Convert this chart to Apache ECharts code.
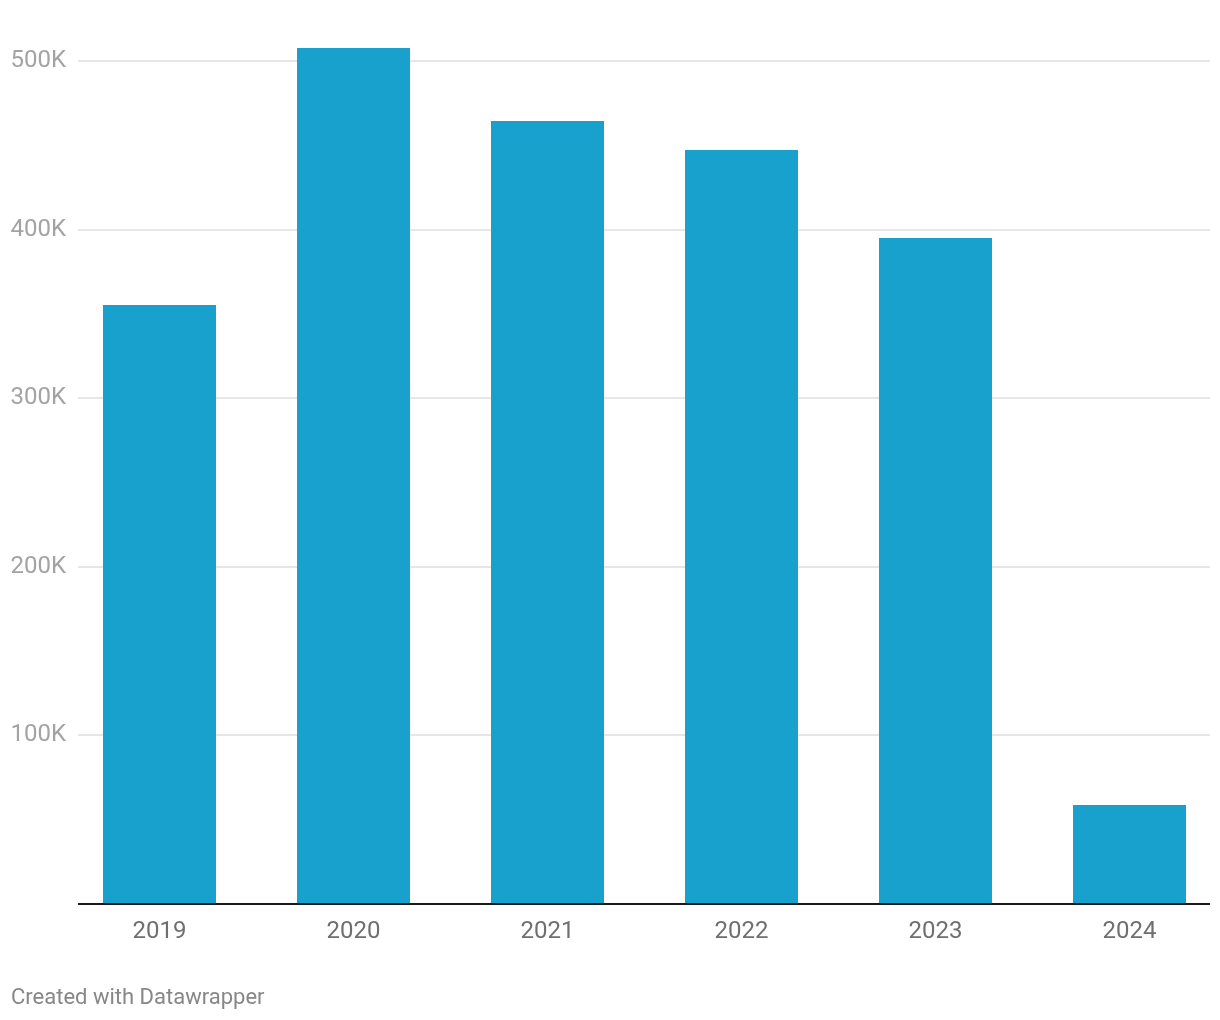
<!DOCTYPE html>
<html>
<head>
<meta charset="utf-8">
<script src="https://cdn.jsdelivr.net/npm/echarts@6/dist/echarts.min.js"></script>
<style>
html,body{margin:0;padding:0;background:#fff;}
#chart{width:1220px;height:1020px;}
</style>
</head>
<body>
<div id="chart"></div>
<script>
const categories = ['2019', '2020', '2021', '2022', '2023', '2024'];
const values = [355200, 507700, 464400, 447200, 395000, 58500];
const yTicks = [0, 100000, 200000, 300000, 400000, 500000];

const chart = echarts.init(document.getElementById('chart'), null, {renderer: 'canvas'});
const FONT = 'Roboto';
const TOP = 61, BOTTOM = 1020 - 903.5;

chart.setOption({
  animation: false,
  backgroundColor: '#ffffff',
  grid: [
    {left: 78, right: 10, top: TOP, bottom: BOTTOM, outerBoundsMode: 'none', containLabel: false},
    {left: 62.5, width: 1164, top: TOP, bottom: BOTTOM, outerBoundsMode: 'none', containLabel: false}
  ],
  xAxis: [
    {type: 'category', gridIndex: 0, data: categories, show: false},
    {
      type: 'category', gridIndex: 1, data: categories,
      axisLine: {show: false}, axisTick: {show: false},
      axisLabel: {fontFamily: FONT, fontSize: 24, color: '#6f6f6f', margin: 16}
    }
  ],
  yAxis: [
    {
      type: 'value', gridIndex: 0, min: yTicks[0], max: yTicks[yTicks.length - 1], interval: 100000,
      axisLine: {show: false}, axisTick: {show: false},
      splitLine: {lineStyle: {color: '#e6e6e6', width: 2}},
      axisLabel: {
        fontFamily: FONT, fontSize: 24, color: '#a3a3a3', margin: 12,
        verticalAlign: 'middle', padding: [3, 0, 0, 0],
        formatter: v => v === 0 ? '' : (v / 1000) + 'K'
      }
    },
    {
      type: 'value', gridIndex: 1, min: yTicks[0], max: yTicks[yTicks.length - 1], interval: 100000,
      show: false, splitLine: {show: false}
    }
  ],
  series: [
    {
      type: 'bar', xAxisIndex: 1, yAxisIndex: 1, data: values, clip: false,
      barWidth: 113, itemStyle: {color: '#18a1cd'}, z: 2
    },
    {
      type: 'line', xAxisIndex: 0, yAxisIndex: 0, data: [], silent: true,
      markLine: {
        silent: true, symbol: 'none', label: {show: false},
        lineStyle: {color: '#1a1a1a', width: 2, type: 'solid'},
        data: [{yAxis: 0}]
      },
      z: 5
    }
  ],
  graphic: [{
    type: 'text', left: 11, top: 987,
    style: {text: 'Created with Datawrapper', fontFamily: FONT, fontSize: 22, fill: '#878787'}
  }]
});
</script>
</body>
</html>
